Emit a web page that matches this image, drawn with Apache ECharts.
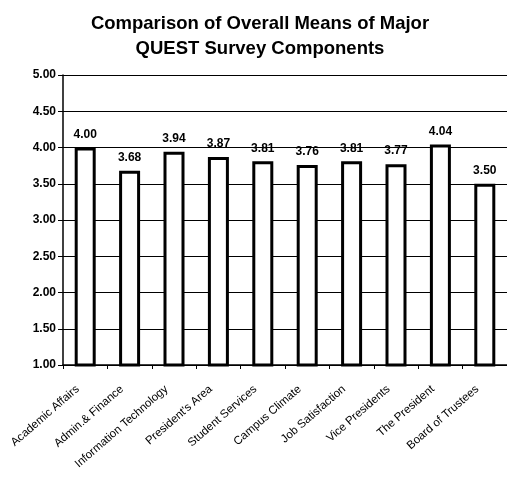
<!DOCTYPE html>
<html><head><meta charset="utf-8">
<script src="https://cdn.jsdelivr.net/npm/echarts@6/dist/echarts.min.js"></script>
<style>html,body{margin:0;padding:0;background:#fff}#c{width:507px;height:479px}</style>
</head><body><div id="c"></div>
<script>
const categories = ["Academic Affairs","Admin.& Finance","Information Technology","President's Area","Student Services","Campus Climate","Job Satisfaction","Vice Presidents","The President","Board of Trustees"];
const means = [4.00, 3.68, 3.94, 3.87, 3.81, 3.76, 3.81, 3.77, 4.04, 3.50];
const yTicks = {min: 1, max: 5, interval: 0.5};
const chart = echarts.init(document.getElementById('c'), null, {renderer: 'canvas'});
chart.setOption({
  animation: false,
  backgroundColor: '#fff',
  title: {
    text: 'Comparison of Overall Means of Major\nQUEST Survey Components',
    left: 255, top: 6, textAlign: 'center',
    textStyle: {fontFamily: 'Liberation Sans, Arial', fontWeight: 'bold', fontSize: 18.5, color: '#000', lineHeight: 25}
  },
  grid: {left: 63, right: 0, top: 75, bottom: 114},
  xAxis: {
    type: 'category', data: categories,
    axisLine: {lineStyle: {color: '#000', width: 1.5}},
    axisTick: {show: true, alignWithLabel: false, length: 4, lineStyle: {color: '#000'}},
    axisLabel: {rotate: 41, interval: 0, fontFamily: 'Liberation Sans Narrow, Arial', fontSize: 11.5, color: '#000', margin: 16, padding: [0, 10, 0, 0]}
  },
  yAxis: {
    type: 'value', min: yTicks.min, max: yTicks.max, interval: yTicks.interval,
    axisLine: {show: true, lineStyle: {color: '#000', width: 1.5}},
    axisTick: {show: true, length: 5, lineStyle: {color: '#000'}},
    splitLine: {lineStyle: {color: '#000', width: 1}},
    axisLabel: {formatter: v => v.toFixed(2), fontFamily: 'Liberation Sans, Arial', fontWeight: 'bold', fontSize: 12, color: '#000', margin: 7}
  },
  series: [{
    type: 'bar', data: means, barWidth: 21,
    itemStyle: {color: '#fff', borderColor: '#000', borderWidth: 3},
    label: {show: true, position: 'top', distance: 7, formatter: p => p.value.toFixed(2), fontFamily: 'Liberation Sans, Arial', fontWeight: 'bold', fontSize: 12, color: '#000'}
  }]
});
</script></body></html>
